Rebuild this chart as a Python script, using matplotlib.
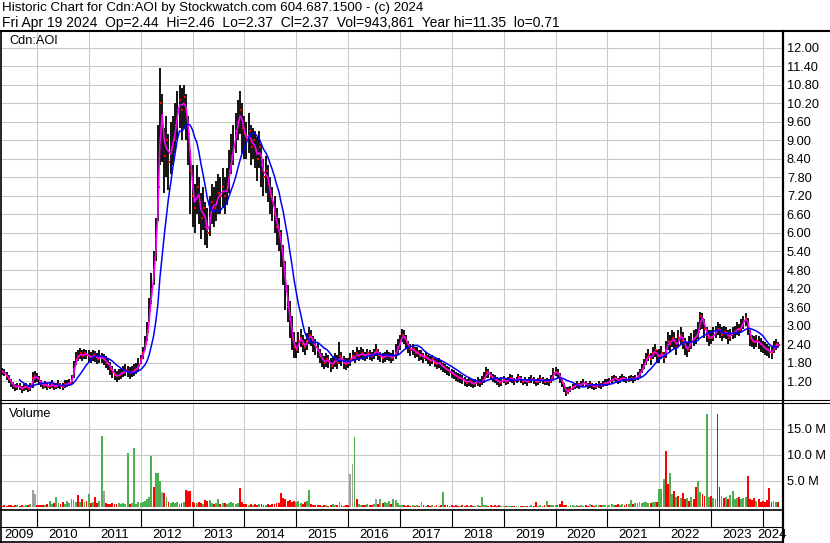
#!/usr/bin/env python
import numpy as np
import pandas as pd
import matplotlib; matplotlib.use('Agg')
from matplotlib import pyplot as plt
from matplotlib.lines import Line2D

plt.rcParams['font.family'] = ['Liberation Sans', 'DejaVu Sans']

header1 = "Historic Chart for Cdn:AOI by Stockwatch.com 604.687.1500 - (c) 2024"
header2 = "Fri Apr 19 2024  Op=2.44  Hi=2.46  Lo=2.37  Cl=2.37  Vol=943,861  Year hi=11.35  lo=0.71"
symbol = "Cdn:AOI"

# semi-monthly readings, Apr 15 2009 .. Apr 15 2024 (one line per year)
close = [
    1.55, 1.50, 1.45, 1.35, 1.25, 1.15, 1.05, 1.00, 1.05, 1.00, 0.95, 1.00, 1.05, 0.95, 1.00, 1.30, 1.35,
    1.30, 1.20, 1.10, 1.05, 1.10, 1.00, 1.05, 1.10, 1.00, 1.05, 1.10, 1.05, 1.00, 1.10, 1.10, 1.15, 1.20, 1.60, 1.90, 2.00, 2.10, 2.00, 2.10, 2.05,
    2.00, 1.95, 2.05, 2.00, 1.90, 2.00, 1.95, 1.90, 1.80, 1.75, 1.60, 1.50, 1.40, 1.35, 1.40, 1.45, 1.50, 1.55, 1.50, 1.45, 1.50, 1.55, 1.60, 1.70,
    1.90, 2.10, 2.40, 2.80, 3.50, 4.20, 4.80, 5.80, 7.50, 10.20, 9.50, 8.50, 9.00, 8.30, 8.80, 9.00, 9.50, 10.00, 10.30, 10.00, 10.40, 9.80, 9.20, 8.00,
    7.20, 6.80, 7.50, 7.00, 6.50, 6.80, 6.20, 6.00, 6.50, 7.00, 6.80, 7.00, 7.30, 7.20, 7.50, 7.20, 7.50, 8.00, 8.50, 8.80, 9.30, 9.60, 10.00, 9.40,
    9.20, 9.00, 9.30, 8.80, 9.00, 8.70, 8.40, 8.80, 8.20, 7.80, 8.00, 7.60, 7.20, 7.00, 6.60, 6.20, 6.00, 5.50, 5.00, 4.20, 3.60, 3.20, 2.60, 2.30,
    2.20, 2.50, 2.60, 2.40, 2.30, 2.50, 2.70, 2.60, 2.40, 2.30, 2.20, 2.00, 1.90, 1.80, 1.90, 1.85, 1.70, 1.80, 1.90, 1.80, 2.00, 1.90, 1.80, 1.75,
    1.80, 1.90, 2.00, 1.95, 2.10, 2.00, 2.10, 2.05, 2.00, 2.10, 2.05, 2.00, 2.10, 2.20, 2.05, 2.00, 1.95, 2.00, 2.05, 2.00, 1.95, 2.00, 2.10, 2.30,
    2.50, 2.70, 2.60, 2.45, 2.30, 2.20, 2.25, 2.10, 2.15, 2.00, 2.05, 1.95, 2.00, 1.90, 1.85, 1.90, 1.80, 1.75, 1.80, 1.70, 1.65, 1.60, 1.55, 1.50,
    1.45, 1.40, 1.35, 1.30, 1.30, 1.25, 1.20, 1.15, 1.20, 1.15, 1.10, 1.15, 1.20, 1.15, 1.20, 1.30, 1.50, 1.45, 1.35, 1.30, 1.25, 1.20, 1.15, 1.20,
    1.25, 1.18, 1.22, 1.30, 1.27, 1.20, 1.24, 1.32, 1.26, 1.18, 1.22, 1.17, 1.24, 1.28, 1.22, 1.16, 1.20, 1.27, 1.23, 1.18, 1.21, 1.17, 1.28, 1.45,
    1.50, 1.45, 1.30, 1.15, 1.00, 0.80, 0.90, 0.95, 1.00, 1.05, 1.10, 1.05, 1.10, 1.15, 1.10, 1.05, 1.10, 1.05, 1.00, 1.05, 1.10, 1.05, 1.10, 1.15,
    1.15, 1.20, 1.24, 1.30, 1.26, 1.21, 1.25, 1.31, 1.27, 1.22, 1.26, 1.30, 1.25, 1.29, 1.35, 1.45, 1.60, 1.75, 1.92, 2.05, 1.90, 2.10, 2.20, 2.00,
    2.00, 2.10, 1.95, 2.20, 2.50, 2.40, 2.60, 2.50, 2.30, 2.60, 2.70, 2.50, 2.30, 2.20, 2.40, 2.50, 2.60, 2.65, 2.80, 3.30, 3.20, 2.90, 2.70, 2.60,
    2.60, 2.70, 2.80, 2.90, 2.85, 2.70, 2.80, 2.75, 2.60, 2.70, 2.75, 2.80, 2.90, 2.85, 3.00, 3.15, 3.25, 3.00, 2.60, 2.50, 2.45, 2.50, 2.45, 2.40,
    2.30, 2.25, 2.20, 2.15, 2.10, 2.30, 2.40, 2.37,
]
high = [
    1.65, 1.62, 1.58, 1.50, 1.38, 1.28, 1.18, 1.10, 1.15, 1.12, 1.05, 1.10, 1.15, 1.08, 1.12, 1.50, 1.52,
    1.45, 1.35, 1.22, 1.15, 1.20, 1.12, 1.15, 1.22, 1.12, 1.15, 1.22, 1.15, 1.12, 1.22, 1.22, 1.28, 1.40, 1.85, 2.15, 2.20, 2.28, 2.22, 2.25, 2.22,
    2.20, 2.15, 2.22, 2.18, 2.10, 2.20, 2.12, 2.08, 2.00, 1.95, 1.82, 1.70, 1.60, 1.52, 1.58, 1.62, 1.68, 1.75, 1.70, 1.65, 1.68, 1.75, 1.80, 1.95,
    2.05, 2.30, 2.65, 3.10, 3.90, 4.70, 5.40, 6.50, 9.50, 11.35, 10.50, 9.40, 9.80, 9.20, 9.60, 9.80, 10.20, 10.60, 10.80, 10.70, 10.80, 10.50, 9.80, 8.70,
    8.20, 7.60, 8.20, 7.80, 7.30, 7.50, 7.00, 6.80, 7.20, 7.60, 7.50, 7.70, 7.90, 7.80, 8.10, 7.80, 8.10, 8.70, 9.20, 9.50, 9.90, 10.30, 10.60, 10.20,
    9.80, 9.60, 9.90, 9.50, 9.40, 9.30, 9.10, 9.30, 8.90, 8.40, 8.50, 8.20, 7.80, 7.50, 7.20, 6.80, 6.50, 6.10, 5.60, 5.10, 4.30, 3.80, 3.30, 2.80,
    2.45, 2.80, 2.90, 2.70, 2.55, 2.75, 2.95, 2.85, 2.65, 2.55, 2.45, 2.25, 2.10, 2.00, 2.10, 2.05, 1.95, 2.00, 2.10, 2.05, 2.45, 2.15, 2.00, 1.95,
    1.95, 2.10, 2.20, 2.15, 2.30, 2.20, 2.30, 2.25, 2.15, 2.25, 2.20, 2.15, 2.25, 2.40, 2.25, 2.15, 2.10, 2.15, 2.20, 2.15, 2.10, 2.20, 2.40, 2.55,
    2.70, 2.90, 2.85, 2.70, 2.50, 2.40, 2.40, 2.30, 2.30, 2.20, 2.20, 2.10, 2.15, 2.05, 2.00, 2.05, 1.95, 1.90, 1.95, 1.85, 1.80, 1.75, 1.70, 1.65,
    1.60, 1.55, 1.50, 1.45, 1.42, 1.38, 1.32, 1.28, 1.32, 1.28, 1.22, 1.28, 1.32, 1.28, 1.35, 1.48, 1.65, 1.60, 1.50, 1.42, 1.38, 1.32, 1.28, 1.32,
    1.35, 1.30, 1.32, 1.42, 1.38, 1.30, 1.34, 1.44, 1.36, 1.28, 1.32, 1.27, 1.34, 1.40, 1.32, 1.26, 1.30, 1.38, 1.33, 1.28, 1.31, 1.28, 1.40, 1.62,
    1.65, 1.60, 1.45, 1.30, 1.15, 1.00, 1.02, 1.05, 1.10, 1.15, 1.20, 1.15, 1.20, 1.25, 1.20, 1.15, 1.20, 1.15, 1.10, 1.15, 1.20, 1.15, 1.20, 1.25,
    1.25, 1.30, 1.35, 1.40, 1.36, 1.31, 1.35, 1.42, 1.37, 1.32, 1.36, 1.40, 1.35, 1.40, 1.48, 1.60, 1.75, 1.90, 2.10, 2.25, 2.10, 2.30, 2.40, 2.20,
    2.25, 2.35, 2.15, 2.50, 2.80, 2.70, 2.85, 2.80, 2.60, 2.85, 2.95, 2.80, 2.60, 2.45, 2.65, 2.75, 2.85, 2.90, 3.10, 3.45, 3.40, 3.20, 2.95, 2.85,
    2.85, 2.95, 3.00, 3.10, 3.05, 2.95, 3.00, 2.95, 2.85, 2.90, 2.95, 3.00, 3.10, 3.05, 3.20, 3.30, 3.40, 3.25, 2.85, 2.70, 2.65, 2.70, 2.65, 2.60,
    2.50, 2.45, 2.40, 2.35, 2.30, 2.50, 2.55, 2.46,
]
low = [
    1.40, 1.38, 1.35, 1.22, 1.12, 1.02, 0.95, 0.88, 0.92, 0.90, 0.82, 0.88, 0.92, 0.85, 0.88, 0.98, 1.15,
    1.18, 1.08, 1.00, 0.95, 0.98, 0.90, 0.95, 0.98, 0.90, 0.95, 0.98, 0.95, 0.90, 0.98, 1.00, 1.05, 1.10, 1.30, 1.72, 1.85, 1.92, 1.85, 1.90, 1.90,
    1.82, 1.78, 1.85, 1.82, 1.75, 1.80, 1.78, 1.72, 1.62, 1.55, 1.40, 1.30, 1.22, 1.18, 1.22, 1.28, 1.32, 1.35, 1.32, 1.28, 1.32, 1.35, 1.42, 1.50,
    1.75, 1.90, 2.20, 2.50, 3.10, 3.70, 4.30, 5.10, 6.40, 8.20, 8.30, 7.30, 7.80, 7.40, 7.90, 8.20, 8.60, 9.00, 9.40, 9.00, 9.40, 9.00, 8.20, 6.60,
    6.20, 6.00, 6.60, 6.30, 5.80, 6.10, 5.60, 5.50, 5.90, 6.30, 6.20, 6.40, 6.60, 6.60, 6.80, 6.60, 6.90, 7.30, 7.90, 8.20, 8.60, 9.00, 9.20, 8.60,
    8.40, 8.40, 8.60, 8.20, 8.40, 8.10, 7.70, 8.10, 7.50, 7.20, 7.30, 7.00, 6.60, 6.40, 6.00, 5.60, 5.40, 4.90, 4.30, 3.50, 3.10, 2.60, 2.20, 1.95,
    1.95, 2.10, 2.30, 2.15, 2.05, 2.20, 2.40, 2.35, 2.15, 2.05, 1.95, 1.78, 1.65, 1.58, 1.65, 1.62, 1.50, 1.58, 1.65, 1.60, 1.75, 1.68, 1.60, 1.55,
    1.62, 1.70, 1.85, 1.80, 1.92, 1.85, 1.92, 1.88, 1.85, 1.92, 1.88, 1.85, 1.92, 2.00, 1.88, 1.82, 1.78, 1.82, 1.88, 1.85, 1.80, 1.85, 1.92, 2.05,
    2.20, 2.45, 2.40, 2.25, 2.10, 2.00, 2.05, 1.95, 1.98, 1.85, 1.88, 1.80, 1.85, 1.75, 1.70, 1.75, 1.65, 1.60, 1.62, 1.55, 1.50, 1.45, 1.40, 1.35,
    1.30, 1.25, 1.20, 1.18, 1.15, 1.10, 1.05, 1.02, 1.05, 1.02, 0.98, 1.02, 1.05, 1.02, 1.08, 1.15, 1.30, 1.30, 1.22, 1.18, 1.12, 1.08, 1.02, 1.05,
    1.12, 1.08, 1.10, 1.18, 1.15, 1.08, 1.12, 1.18, 1.14, 1.06, 1.10, 1.05, 1.12, 1.15, 1.10, 1.04, 1.08, 1.15, 1.10, 1.06, 1.08, 1.05, 1.15, 1.25,
    1.35, 1.30, 1.15, 1.00, 0.85, 0.71, 0.78, 0.85, 0.90, 0.95, 0.98, 0.95, 1.00, 1.02, 1.00, 0.95, 0.98, 0.95, 0.90, 0.95, 0.98, 0.95, 1.00, 1.05,
    1.05, 1.10, 1.14, 1.20, 1.16, 1.11, 1.15, 1.20, 1.17, 1.12, 1.16, 1.20, 1.15, 1.19, 1.24, 1.32, 1.45, 1.58, 1.72, 1.85, 1.72, 1.90, 1.98, 1.80,
    1.80, 1.90, 1.78, 1.95, 2.20, 2.15, 2.30, 2.25, 2.05, 2.30, 2.40, 2.25, 2.05, 1.98, 2.15, 2.25, 2.35, 2.40, 2.55, 2.85, 2.90, 2.60, 2.45, 2.35,
    2.40, 2.50, 2.60, 2.70, 2.60, 2.50, 2.60, 2.55, 2.40, 2.50, 2.55, 2.60, 2.70, 2.65, 2.80, 2.90, 3.00, 2.70, 2.35, 2.30, 2.25, 2.30, 2.25, 2.15,
    2.10, 2.05, 2.00, 1.95, 1.92, 2.10, 2.20, 2.30,
]
# volume in millions of shares
volume = [
    0.3, 0.2, 0.3, 0.2, 0.4, 0.3, 0.2, 0.3, 0.4, 0.2, 0.3, 0.2, 0.3, 0.4, 0.5, 3.3, 2.5,
    0.3, 0.3, 0.4, 0.3, 0.4, 0.5, 1.2, 0.6, 0.8, 2.0, 0.7, 0.5, 0.9, 0.6, 1.2, 0.8, 1.6, 1.4, 1.0, 2.3, 1.0, 1.5, 1.0, 1.2,
    2.5, 0.8, 1.0, 2.0, 0.8, 1.2, 13.7, 3.1, 0.8, 0.6, 0.5, 0.7, 0.5, 0.6, 0.8, 0.5, 0.7, 0.6, 10.4, 0.6, 0.8, 11.3, 0.5, 0.9,
    0.8, 1.0, 1.2, 1.5, 2.0, 9.8, 3.8, 6.5, 6.5, 5.0, 2.8, 2.6, 2.0, 1.0, 0.8, 1.0, 0.7, 1.0, 0.6, 0.8, 0.9, 3.3, 3.0, 3.1,
    1.0, 0.8, 0.7, 1.0, 0.8, 0.6, 1.3, 1.2, 1.4, 0.8, 0.6, 0.7, 1.5, 0.6, 0.8, 0.7, 0.5, 0.8, 0.9, 0.7, 0.6, 0.8, 3.6, 0.9,
    0.6, 0.5, 0.4, 0.6, 0.3, 0.5, 0.4, 0.6, 0.5, 0.4, 0.3, 0.5, 0.4, 0.6, 0.5, 0.7, 0.8, 2.7, 1.8, 1.5, 1.2, 1.4, 1.0, 1.2,
    1.0, 1.2, 0.8, 0.6, 0.9, 1.1, 3.3, 0.5, 0.4, 0.3, 0.4, 0.3, 0.2, 0.3, 0.4, 0.2, 0.3, 0.5, 0.3, 0.4, 1.0, 0.3, 0.2, 0.3,
    0.4, 6.4, 8.3, 13.5, 1.6, 0.5, 0.4, 0.3, 0.3, 0.5, 0.4, 0.3, 0.5, 1.6, 0.6, 1.6, 0.8, 1.0, 0.7, 1.2, 0.6, 1.5, 1.3, 0.8,
    0.4, 0.3, 0.3, 0.2, 0.3, 0.2, 0.3, 0.2, 0.3, 0.2, 0.9, 0.3, 0.2, 0.3, 0.2, 0.3, 0.2, 0.3, 0.2, 0.3, 2.9, 0.4, 0.3, 0.2,
    0.3, 0.2, 0.3, 0.2, 0.2, 0.3, 0.2, 0.3, 0.2, 0.3, 0.2, 0.2, 0.3, 0.2, 2.0, 0.4, 0.3, 0.2, 0.3, 0.2, 0.3, 0.2, 0.3, 0.2,
    0.2, 0.2, 0.1, 0.2, 0.2, 0.1, 0.2, 0.2, 0.1, 0.2, 0.2, 0.1, 0.2, 0.3, 0.2, 0.9, 0.2, 0.3, 0.2, 0.4, 1.1, 0.3, 0.4, 0.3,
    0.3, 0.4, 0.5, 1.2, 0.4, 0.3, 0.2, 0.3, 0.4, 0.2, 0.3, 0.2, 0.3, 0.2, 0.3, 0.2, 0.6, 0.3, 0.2, 0.3, 0.4, 0.3, 0.4, 0.3,
    0.3, 0.4, 0.5, 0.3, 0.4, 0.5, 0.3, 0.6, 0.4, 0.5, 0.6, 1.4, 0.6, 0.8, 0.7, 0.9, 0.8, 1.0, 0.9, 0.7, 0.8, 1.0, 0.9, 1.0,
    3.4, 3.5, 5.4, 10.7, 4.4, 6.6, 2.5, 3.0, 2.0, 2.2, 1.8, 2.6, 1.5, 1.8, 1.2, 2.0, 1.5, 3.8, 5.0, 2.8, 2.5, 2.2, 17.9, 1.9,
    2.2, 1.8, 1.5, 17.9, 3.8, 2.2, 1.8, 2.0, 1.5, 2.3, 3.1, 1.6, 1.8, 2.0, 1.5, 1.7, 2.0, 6.0, 1.6, 1.4, 1.8, 1.2, 1.5, 1.0,
    1.2, 1.0, 1.4, 3.6, 1.0, 1.2, 1.0, 0.9,
]
# g = up, r = down, n = unchanged
vol_dir = (
    "r r r r r r r r g r r g g r g n n "
    "r r r r g r g g r g g r r g g g g g g r g r g r "
    "g r g r r g g n r r r r r r g g g g g r g g g g "
    "g g g g g g r g g g n r g r g g g g g r g r r r "
    "r r g r r g r r g g r g g r g r g g g g g g r r "
    "r r g r g r r g r r g r r r r r r r r r r r r r "
    "g g g r r g g r r r r r r r g r r g g r g r r r "
    "r n n g r g g r r g r r g n r g r g g g r g g g "
    "g g r r r r g r g r g r g r r g r r g r g r r r "
    "r r r r g r r r g r r g g r g g g r r r r r r g "
    "g r g g r r g g r r g r g g r r g g r r g r g g "
    "g r r r r r g g g g g r g g r r n r r g g r g g "
    "g g g g r r g g r r g g r g g g g g g g r g g r "
    "g g g r r g g r g r g r r g r g r r g g r r g g "
    "r g g r r g r g r g g g g r g g g r r r r g r r "
    "r r r r r g g r"
).split()

price_ticks = [1.2, 1.8, 2.4, 3.0, 3.6, 4.2, 4.8, 5.4, 6.0, 6.6, 7.2, 7.8, 8.4, 9.0, 9.6, 10.2, 10.8, 11.4, 12.0]
vol_ticks = [5, 10, 15]
vol_labels = ['5.0 M', '10.0 M', '15.0 M']
years = list(range(2009, 2025))

dates = pd.date_range('2009-04-15', '2024-04-15', freq='SMS')
assert len(dates) == len(close) == len(high) == len(low) == len(volume) == len(vol_dir)
xs = np.array([d.year + (d.dayofyear - 1) / (366 if d.is_leap_year else 365) for d in dates])
close = np.array(close)

W, H = 830, 543
x0, x1 = 2009.306, 2024.366


def fx(px):
    return px / W


def fy(py):
    return 1 - py / H


def px_of(year):
    return 1 + (year - x0) / (x1 - x0) * 781


fig = plt.figure(figsize=(W / 100, H / 100), dpi=100)
ax_p = fig.add_axes([fx(1), fy(400), 781 / W, 369 / H])
ax_v = fig.add_axes([fx(1), fy(510), 781 / W, 108 / H])

grid_kw = dict(color='#C8C8C8', lw=0.75)
for ax in (ax_p, ax_v):
    for s in ax.spines.values():
        s.set_visible(False)
    ax.set_xlim(x0, x1)
    ax.set_xticks(years[1:])
    ax.tick_params(axis='x', length=0, labelbottom=False)
    ax.yaxis.tick_right()
    ax.tick_params(axis='y', length=0, pad=3.5, labelsize=9.2)
    ax.grid(True, **grid_kw)
    ax.set_axisbelow(True)

# price panel
ax_p.set_ylim(0.584, 12.551)
ax_p.set_yticks(price_ticks)
ax_p.set_yticklabels(['%.2f' % t for t in price_ticks])
ax_p.vlines(xs, low, high, color='black', lw=1.3)
ax_p.plot(xs + 0.014, close, ls='none', marker='s', ms=1.9, mew=0, color='red')
ma_fast = pd.Series(close).rolling(2, min_periods=1).mean()
ma_slow = pd.Series(close).rolling(10).mean()
ax_p.plot(xs, ma_fast, color='#FF00FF', lw=1.1)
ax_p.plot(xs, ma_slow, color='#0000FF', lw=1.1)
ax_p.text(8 / 781, 1 - 4 / 369, symbol, transform=ax_p.transAxes, ha='left', va='top', fontsize=9.2)

# volume panel
colors = {'g': '#4CAF50', 'r': '#FF0000', 'n': '#A0A0A0'}
ax_v.set_ylim(-0.577, 20.19)
ax_v.set_yticks(vol_ticks)
ax_v.set_yticklabels(vol_labels)
ax_v.bar(xs, volume, width=0.036, color=[colors[c] for c in vol_dir], linewidth=0)
ax_v.text(8 / 781, 1 - 6 / 108, 'Volume', transform=ax_v.transAxes, ha='left', va='top', fontsize=9.2)

# header
fig.text(fx(2), fy(2), header1, ha='left', va='top', fontsize=9.6)
fig.text(fx(2), fy(15.5), header2, ha='left', va='top', fontsize=10)


def hline(py, xa, xb, lw):
    fig.add_artist(Line2D([fx(xa), fx(xb)], [fy(py), fy(py)], color='black', lw=lw))


def vline(px, ya, yb, lw):
    fig.add_artist(Line2D([fx(px), fx(px)], [fy(ya), fy(yb)], color='black', lw=lw))


hline(31, 0, W, 1.5)
hline(399.5, 0, W, 0.8)
hline(402.5, 0, W, 0.8)
hline(510, 0, 782, 1.2)
hline(527, 0, 782, 0.8)
hline(542, 0, 782, 1.2)
vline(0.7, 31, H, 1.2)
vline(782.5, 31, H, 1.6)

# date strip
for yr in years:
    a = max(px_of(yr), 1)
    b = min(px_of(yr + 1), 782)
    if yr > 2009:
        vline(px_of(yr), 510, 527, 0.8)
    fig.text(fx((a + b) / 2), fy(535), str(yr), ha='center', va='center', fontsize=9.5)

fig.savefig('out.png', dpi=100)
